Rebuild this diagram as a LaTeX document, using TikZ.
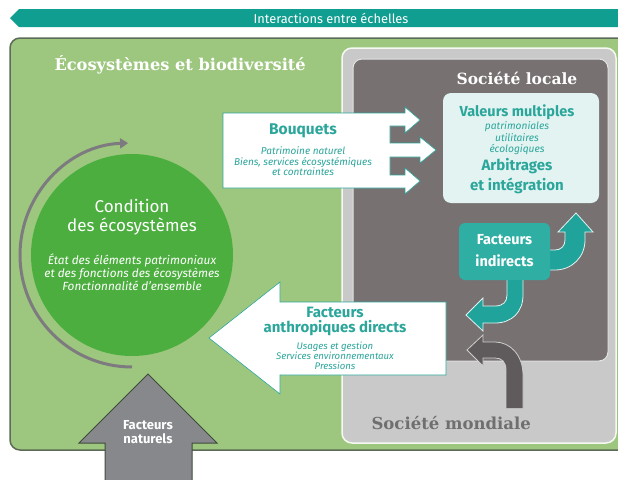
\documentclass[tikz,border=0pt]{standalone}
\usepackage{fontspec}
\setmainfont{Fira Sans}
\newfontfamily\slabfont{DejaVu Serif}
\usetikzlibrary{arrows.meta}

\definecolor{bggreen}{HTML}{9DC77E}
\definecolor{bgedge}{HTML}{5C6B57}
\definecolor{circgreen}{HTML}{4CAE3F}
\definecolor{banner}{HTML}{109E90}
\definecolor{tealtxt}{HTML}{2BA69B}
\definecolor{tealbox}{HTML}{2FAEA4}
\definecolor{tealarrow}{HTML}{1FA39A}
\definecolor{mint}{HTML}{E2F3F1}
\definecolor{locgray}{HTML}{777172}
\definecolor{mondgray}{HTML}{C9C9C9}
\definecolor{mondtxt}{HTML}{6F6F6F}
\definecolor{natgray}{HTML}{86888B}
\definecolor{arcgray}{HTML}{7E7B80}
\definecolor{arrowdark}{HTML}{5F5B5C}

\begin{document}
\begin{tikzpicture}[x=1pt, y=-1pt,
        slab/.style={font=\slabfont\bfseries\fontsize{15.5}{17}\selectfont},
        head/.style={font=\bfseries\fontsize{14.5}{15}\selectfont, text=tealtxt, align=center},
        sub/.style={font=\itshape\fontsize{10}{10.5}\selectfont, text=tealtxt, align=center},
        turnedge/.style={draw=mint, line width=0.8pt}]
                \useasboundingbox (0,0) rectangle (618,479);
                \clip (0,0) rectangle (618,479);

                % banner
                \fill [banner] (10,18) -- (19,9) -- (630,9) -- (630,27) -- (19,27) -- cycle;
                \node (scale) [text=white, font=\fontsize{12.8}{14}\selectfont] at (331,18) {Interactions entre échelles};

                % frames
                \draw [fill=bggreen, draw=bgedge, line width=1.5pt, rounded corners=10pt] (10,38) rectangle (640,450);
                \draw [fill=mondgray, draw=white!90!bggreen, line width=1.5pt, rounded corners=10pt] (342,48) rectangle (616,443);
                \draw [fill=locgray, draw=white!80!locgray, line width=1pt, rounded corners=9pt] (353,59) rectangle (608,361);
                \fill [mint, rounded corners=8pt] (443,93) rectangle (599,203);

                \node (eco) [slab, font=\slabfont\bfseries\fontsize{16.2}{18}\selectfont, text=white, anchor=west] at (51,65) {Écosystèmes et biodiversité};
                \node (local) [slab, text=white] at (517,78) {Société locale};

                % condition
                \draw [arcgray, line width=3pt, -{Triangle[length=8pt, width=10pt]}] (132,367) arc [start angle=90, end angle=268, radius=112];
                \node (cond) [circle, fill=circgreen, minimum size=202pt] at (132,255) {};
                \node (condt) [text=white, align=center, font=\fontsize{17}{19.5}\selectfont] at (132,217) {Condition\\des écosystèmes};
                \node (conds) [text=white, align=center, font=\itshape\fontsize{11.8}{13}\selectfont] at (132,272)
                        {État des éléments patrimoniaux\\et des fonctions des écosystèmes\\Fonctionnalité d'ensemble};

                % bouquets
                \draw [fill=white, draw=tealtxt, line width=0.6pt] (223,113) -- (405,113) -- (405,107) -- (420,120) -- (405,133) -- (405,126)
                        -- (390,126) -- (390,143) -- (420,143) -- (420,137) -- (436,150) -- (420,163) -- (420,157) -- (390,157)
                        -- (390,175) -- (405,175) -- (405,168) -- (420,181) -- (405,194) -- (405,188) -- (223,188) -- cycle;
                \node (bq) [head, font=\bfseries\fontsize{15.5}{16}\selectfont] at (303,131) {Bouquets};
                \node (bqs) [sub] at (303,161.5) {Patrimoine naturel\\Biens, services écosystémiques\\et contraintes};

                % valeurs
                \node (val) [head] at (517,112) {Valeurs multiples};
                \node (vals) [sub, font=\itshape\fontsize{10.2}{11.5}\selectfont] at (517,138.5) {patrimoniales\\utilitaires\\écologiques};
                \node (arb) [head, font=\fontsize{15}{20}\selectfont\bfseries] at (517,176) {Arbitrages\\et intégration};

                % indirects
                \fill [tealarrow] (548,250) -- (555,250) .. controls (561,250) and (565,246) .. (565,240) -- (565,232) -- (558,232)
                        -- (576,213) -- (593,232) -- (585,232) -- (585,240) .. controls (585,257) and (572,270) .. (555,270) -- (548,270) -- cycle;
                \draw [turnedge] (550,250) -- (555,250) .. controls (561,250) and (565,246) .. (565,240) -- (565,232) -- (558,232)
                        -- (576,213) -- (593,232) -- (585,232) -- (585,240) .. controls (585,257) and (572,270) .. (555,270) -- (550,270);
                \fill [tealarrow] (507,278) -- (523,278) -- (523,295) .. controls (523,312) and (512,323) .. (495,323) -- (483,323) -- (483,331)
                        -- (466,315) -- (483,298) -- (483,306) -- (495,306) .. controls (503,306) and (507,302) .. (507,295) -- cycle;
                \draw [turnedge] (523,280) -- (523,295) .. controls (523,312) and (512,323) .. (495,323) -- (483,323) -- (483,331)
                        -- (466,315) -- (483,298) -- (483,306) -- (495,306) .. controls (503,306) and (507,302) .. (507,295) -- (507,280);
                \node (ind) [fill=tealbox, rounded corners=6pt, minimum width=91pt, minimum height=57pt] at (504.5,251.5) {};
                \node (indt) [text=white, align=center, font=\bfseries\fontsize{14.5}{22}\selectfont] at (504.5,251) {Facteurs\\indirects};

                % mondial
                \draw [fill=arrowdark, draw=white!70!arrowdark, line width=0.8pt] (523,408) -- (523,375) .. controls (523,355) and (510,342) .. (495,342)
                        -- (483,342) -- (483,335) -- (467,350) -- (483,366) -- (483,358) -- (495,358) .. controls (502,358) and (506,362) .. (506,370)
                        -- (506,408);
                \node (world) [slab, font=\slabfont\bfseries\fontsize{16.5}{18}\selectfont, text=mondtxt, anchor=west] at (368,423) {Société mondiale};

                % directs
                \draw [fill=white, draw=tealtxt, line width=0.6pt] (209,338) -- (280,282) -- (280,302) -- (446,302) -- (446,375) -- (280,375) -- (280,394) -- cycle;
                \node (dir) [head, font=\bfseries\fontsize{15}{15}\selectfont] at (335,321.5) {Facteurs\\anthropiques directs};
                \node (dirs) [sub, font=\itshape\fontsize{9.6}{10}\selectfont] at (335,356) {Usages et gestion\\Services environnementaux\\Pressions};

                % naturels
                \draw [fill=natgray, draw=bgedge!70!black, line width=1pt] (148,374) -- (217,443) -- (192,443) -- (192,490) -- (105,490) -- (105,443) -- (79,443) -- cycle;
                \node (nat) [text=white, align=center, font=\bfseries\fontsize{13}{14}\selectfont] at (148,432) {Facteurs\\naturels};
            \end{tikzpicture}
\end{document}
